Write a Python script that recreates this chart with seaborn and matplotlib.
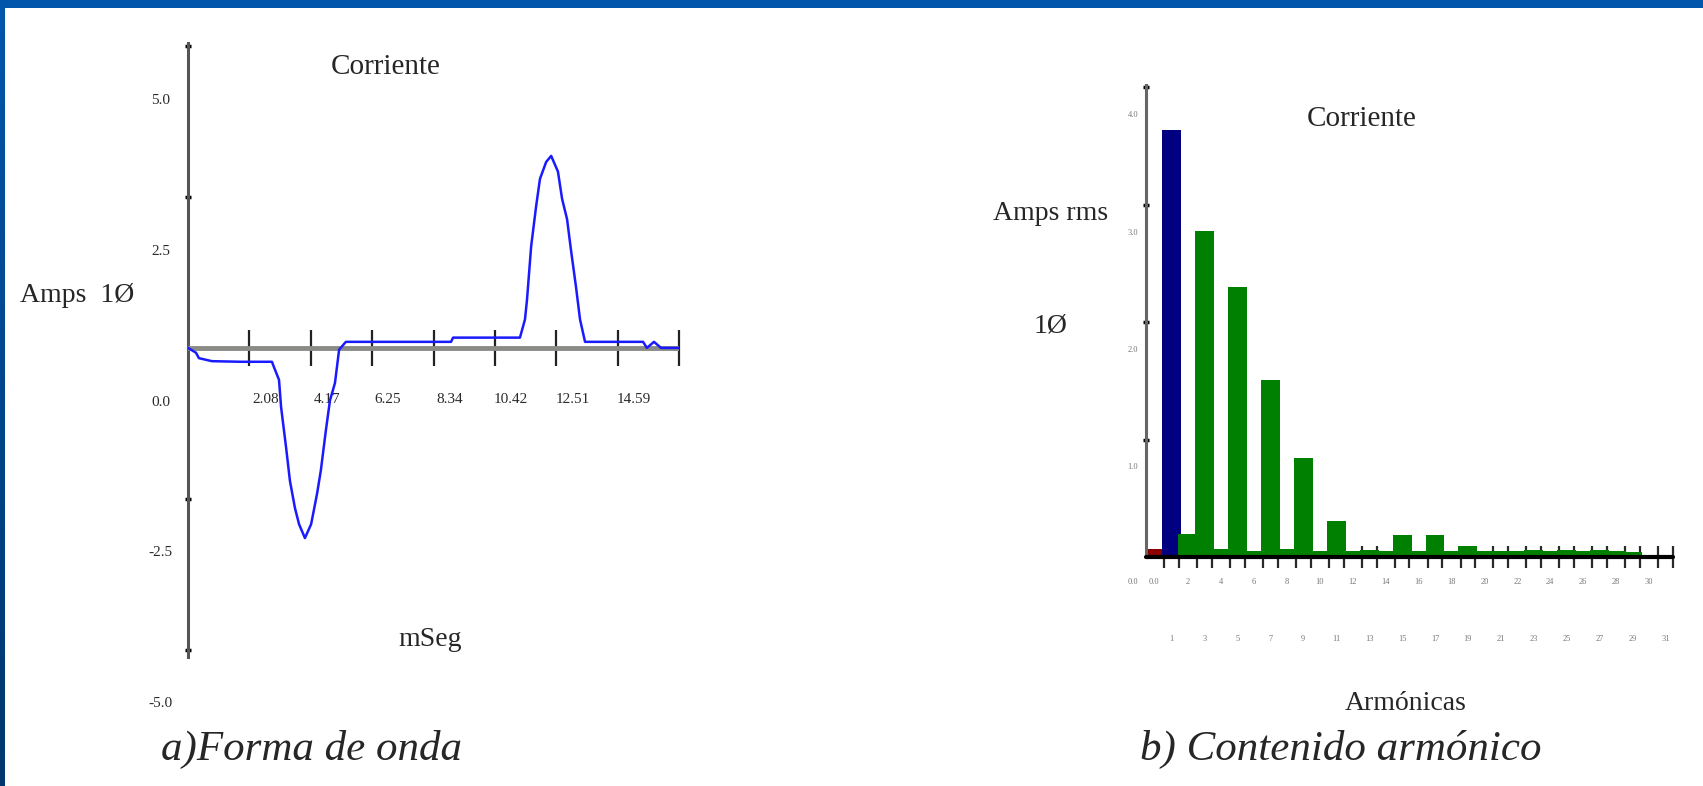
import numpy as np
import pandas as pd
import matplotlib
matplotlib.use("Agg")
import matplotlib.pyplot as plt
from matplotlib.colors import LinearSegmentedColormap
import seaborn as sns

# ---------------------------------------
# Data
# ---------------------------------------

# a) current waveform, one cycle (ms, A)
t_ms = [0.00, 0.27, 0.37, 0.81, 1.80, 2.85, 2.92, 3.09, 3.16, 3.33, 3.46, 3.63,
        3.77, 3.97, 4.18, 4.38, 4.51, 4.68, 4.82, 4.99, 5.13, 5.36, 8.93, 9.00,
        11.27, 11.44, 11.51, 11.65, 11.82, 11.95, 12.16, 12.33, 12.56, 12.70,
        12.87, 13.00, 13.17, 13.31, 13.48, 15.45, 15.58, 15.82, 16.06, 16.67]
amps = [0.00, -0.08, -0.17, -0.22, -0.23, -0.23, -0.32, -0.53, -0.98, -1.65,
        -2.20, -2.65, -2.92, -3.15, -2.92, -2.42, -2.03, -1.37, -0.87, -0.58,
        -0.03, 0.10, 0.10, 0.17, 0.17, 0.47, 0.80, 1.68, 2.35, 2.80, 3.08,
        3.18, 2.92, 2.47, 2.13, 1.63, 1.02, 0.47, 0.10, 0.10, 0.00, 0.10,
        0.00, 0.00]

wave_xticks = [2.08, 4.17, 6.25, 8.34, 10.42, 12.51, 14.59, 16.67]
wave_xlabels = ["2.08", "4.17", "6.25", "8.34", "10.42", "12.51", "14.59"]
wave_yticks = [5.0, 2.5, 0.0, -2.5, -5.0]
wave_ylabels = ["5.0", "2.5", "0.0", "-2.5", "-5.0"]

# b) harmonic content (Amps rms)
harmonics = list(range(32))
rms = [0.07, 3.64, 0.20, 2.78, 0.07, 2.30, 0.05, 1.51, 0.07, 0.84, 0.05, 0.31,
       0.05, 0.06, 0.05, 0.19, 0.05, 0.19, 0.05, 0.09, 0.05, 0.05, 0.05, 0.06,
       0.05, 0.06, 0.05, 0.06, 0.05, 0.04, 0.00, 0.00]
kind = ["dc", "fund"] + ["harm"] * 30
harm_yticks = [1, 2, 3, 4]
harm_ylabels = ["1.0", "2.0", "3.0", "4.0"]

wave = pd.DataFrame({"t": t_ms, "A": amps})
harm = pd.DataFrame({"h": harmonics, "rms": rms, "kind": kind})

# ---------------------------------------
# Figure
# ---------------------------------------

sns.set_theme(style="white")
plt.rcParams["font.family"] = ["Liberation Serif", "DejaVu Serif"]

W, H = 1703, 786
fig = plt.figure(figsize=(W / 100, H / 100), dpi=100)
fig.patch.set_facecolor("white")


def fx(px):
    return px / W


def fy(py):
    return 1 - py / H


# blue slide frame
top = fig.add_axes([0, fy(8), 1, 8 / H])
top.set_axis_off()
top.add_patch(plt.Rectangle((0, 0), 1, 1, color="#0256ac", transform=top.transAxes))
side = fig.add_axes([0, 0, 5 / W, 1])
grad = np.linspace(0, 1, 256).reshape(-1, 1)
side.imshow(grad, aspect="auto",
            cmap=LinearSegmentedColormap.from_list("b", ["#0256ac", "#00376e"]))
side.set_axis_off()

# ---------------------------------------
# a) Forma de onda
# ---------------------------------------

ax = fig.add_axes([fx(188), fy(657), fx(679) - fx(188), (657 - 43) / H])
sns.lineplot(data=wave, x="t", y="A", color="#1a1aff", lw=1.8, ax=ax, zorder=4)
ax.axhline(0, color="#8a8a86", lw=3.5, zorder=3)
ax.set_xlim(0, 16.67)
ax.set_ylim(-5.12, 5.05)
for s in ["top", "right", "bottom"]:
    ax.spines[s].set_visible(False)
ax.spines["left"].set_color("#555555")
ax.spines["left"].set_linewidth(2.2)
ax.set_xlabel("")
ax.set_ylabel("")

ax.set_yticks([5.0, 2.5, -2.5, -5.0])
ax.set_yticklabels([])
ax.tick_params(axis="y", direction="inout", length=4, width=2.5, color="black", left=True)
ax.set_xticks(wave_xticks)
ax.set_xticklabels([])
ax.tick_params(axis="x", direction="inout", length=26, width=1.6, color="#222222",
               bottom=True, pad=0)
ax.xaxis.set_ticks_position("bottom")
ax.spines["bottom"].set_position(("data", 0))
ax.spines["bottom"].set_visible(False)

for v, lab in zip(wave_xticks, wave_xlabels):
    ax.annotate(lab, (v, 0), xytext=(11.5, -37.5), textcoords="offset points",
                ha="center", va="center", fontsize=11, color="#2a2a2a")
for v, lab in zip(wave_yticks, wave_ylabels):
    ax.annotate(lab, (0, v), xytext=(-19.5, -39), textcoords="offset points",
                ha="center", va="center", fontsize=11, color="#2a2a2a")

fig.text(fx(386), fy(67), "Corriente", ha="center", va="center", fontsize=21)
fig.text(fx(77), fy(295), "Amps  1Ø", ha="center", va="center", fontsize=20)
fig.text(fx(430), fy(639), "mSeg", ha="center", va="center", fontsize=20)
fig.text(fx(161), fy(749), "a)Forma de onda", ha="left", va="center",
         fontsize=31, style="italic")

# ---------------------------------------
# b) Contenido armónico
# ---------------------------------------

h_left = -0.545
h_right = 31.4
axr = fig.add_axes([fx(1146), fy(557), fx(1673) - fx(1146), (557 - 85) / H])
sns.barplot(data=harm, x="h", y="rms", hue="kind",
            palette={"dc": "#8b0000", "fund": "#000080", "harm": "#008000"},
            saturation=1, native_scale=True, width=1.15, dodge=False,
            legend=False, errorbar=None, linewidth=0, ax=axr)
axr.set_xlim(h_left, h_right)
axr.set_ylim(0, 4.02)
for s in ["top", "right", "bottom"]:
    axr.spines[s].set_visible(False)
axr.spines["left"].set_color("#666666")
axr.spines["left"].set_linewidth(2.2)
axr.axhline(0, color="black", lw=3, zorder=3, clip_on=False)
axr.set_xlabel("")
axr.set_ylabel("")

axr.set_yticks(harm_yticks)
axr.set_yticklabels([])
axr.tick_params(axis="y", direction="inout", length=4, width=2.5, color="black", left=True)

odd = [h for h in harmonics if h % 2 == 1]
tick_pos = sorted([h - 0.45 for h in odd] + [h + 0.45 for h in odd])
axr.set_xticks(tick_pos)
axr.set_xticklabels([])
axr.tick_params(axis="x", direction="inout", length=16, width=1.6, color="#2a2a2a",
                bottom=True, pad=0)

for h in harmonics[2:31:2]:
    axr.annotate(str(h), (h, 0), xycoords=("data", "axes fraction"),
                 xytext=(0, -18), textcoords="offset points",
                 ha="center", va="center", fontsize=6, color="#777777")
for h in harmonics[1:32:2]:
    axr.annotate(str(h), (h, 0), xycoords=("data", "axes fraction"),
                 xytext=(0, -59), textcoords="offset points",
                 ha="center", va="center", fontsize=6, color="#777777")
for dx in (-9.5, 6):
    axr.annotate("0.0", (h_left, 0), xycoords=("data", "axes fraction"),
                 xytext=(dx, -18), textcoords="offset points",
                 ha="center", va="center", fontsize=6, color="#777777")
for v, lab in zip(harm_yticks, harm_ylabels):
    axr.annotate(lab, (h_left, v), xytext=(-9.4, -20), textcoords="offset points",
                 ha="center", va="center", fontsize=6, color="#777777")

fig.text(fx(1362), fy(119), "Corriente", ha="center", va="center", fontsize=21)
fig.text(fx(1051), fy(214), "Amps rms", ha="center", va="center", fontsize=20)
fig.text(fx(1051), fy(326), "1Ø", ha="center", va="center", fontsize=20)
fig.text(fx(1406), fy(704), "Armónicas", ha="center", va="center", fontsize=20)
fig.text(fx(1140), fy(749), "b) Contenido armónico", ha="left", va="center",
         fontsize=31, style="italic")

fig.savefig("out.png", dpi=100, facecolor="white")
plt.close(fig)
print("Saved -> out.png")
